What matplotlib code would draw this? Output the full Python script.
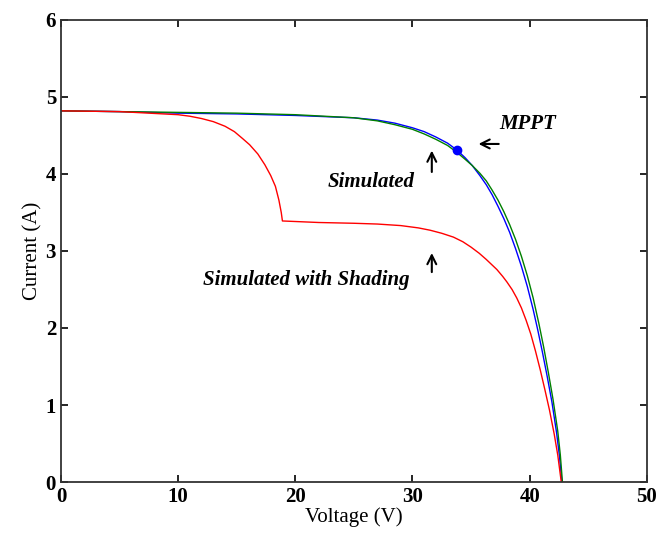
import numpy as np
import matplotlib.pyplot as plt

# voltage / current readings (V, A)
v_blue = [0, 5, 10, 15, 20, 25, 27, 28.5, 30, 31, 32, 33, 33.8, 34.5, 35.1, 35.75,
          36.3, 36.8, 37.3, 37.8, 38.3, 38.8, 39.3, 39.8, 40.3, 40.7, 41.1, 41.5, 41.9, 42.3, 42.55, 42.75]
i_blue = [4.82, 4.81, 4.79, 4.78, 4.76, 4.73, 4.70, 4.66, 4.60, 4.55, 4.48, 4.40, 4.31, 4.21, 4.11, 3.98,
          3.86, 3.73, 3.58, 3.42, 3.24, 3.03, 2.80, 2.54, 2.24, 1.97, 1.68, 1.37, 1.04, 0.64, 0.33, 0.0]

v_green = [0, 5, 10, 15, 20, 25, 27, 28.5, 30, 31, 32, 33, 33.8, 34.5, 35.1, 35.75,
           36.3, 36.8, 37.3, 37.8, 38.3, 38.8, 39.3, 39.8, 40.3, 40.8, 41.2, 41.6, 42.0, 42.4, 42.62, 42.8]
i_green = [4.82, 4.81, 4.80, 4.79, 4.77, 4.73, 4.69, 4.64, 4.58, 4.52, 4.45, 4.37, 4.28, 4.19, 4.11, 4.01,
           3.91, 3.79, 3.66, 3.51, 3.34, 3.15, 2.93, 2.68, 2.39, 2.05, 1.75, 1.42, 1.07, 0.66, 0.35, 0.0]

v_red = [0, 5, 10, 11, 12, 13, 14, 14.8, 15.5, 16.1, 16.8, 17.4, 17.9, 18.3, 18.6, 18.8, 18.9,
         22, 25, 27, 29, 30.5, 31.5, 32.5, 33.5, 34.3, 35.0, 35.7, 36.3, 37.2, 37.7, 38.05, 38.5, 38.9,
         39.3, 39.7, 40.1, 40.5, 40.9, 41.3, 41.7, 42.1, 42.4, 42.7]
i_red = [4.82, 4.81, 4.77, 4.75, 4.72, 4.68, 4.62, 4.55, 4.46, 4.38, 4.26, 4.12, 3.98, 3.84, 3.66, 3.50, 3.39,
         3.37, 3.36, 3.35, 3.33, 3.30, 3.27, 3.23, 3.18, 3.12, 3.05, 2.97, 2.89, 2.76, 2.67, 2.60, 2.50, 2.39,
         2.26, 2.10, 1.92, 1.70, 1.46, 1.20, 0.93, 0.62, 0.35, 0.0]

mppt_v = [33.8]
mppt_i = [4.31]

plt.rcParams['font.family'] = ['Liberation Serif', 'DejaVu Serif']

fig = plt.figure(figsize=(6.6, 5.37), dpi=100)
ax = fig.add_axes([0.0924, 0.1024, 0.8876, 0.8604])

ax.plot(v_blue, i_blue, color='blue', lw=1.0)
ax.plot(v_green, i_green, color='green', lw=1.0)
ax.plot(v_red, i_red, color='red', lw=1.0)
ax.plot(mppt_v, mppt_i, 'o', color='blue', markersize=6)

ax.set_xlim(0, 50)
ax.set_ylim(0, 6)
ax.set_xticks([0, 10, 20, 30, 40, 50])
ax.set_yticks([0, 1, 2, 3, 4, 5, 6])
ax.tick_params(direction='in', top=True, right=True, length=5, width=1.2, labelsize=15)
for lab in ax.get_xticklabels() + ax.get_yticklabels():
    lab.set_fontweight('bold')
for s in ax.spines.values():
    s.set_linewidth(1.3)
    s.set_color('#333333')

ax.set_xlabel('Voltage (V)', fontsize=15, labelpad=0)
ax.set_ylabel('Current (A)', fontsize=15, labelpad=2)

txt = dict(fontsize=15, fontweight='bold', fontstyle='italic', ha='center', va='center')
ax.text(39.8, 4.65, 'MPPT', **txt)
ax.text(26.5, 3.90, 'Simulated', **txt)
ax.text(20.9, 2.62, 'Simulated with Shading', **txt)

arr = dict(arrowstyle='->', lw=1.5, color='black', mutation_scale=16)
ax.annotate('', xy=(35.4, 4.39), xytext=(37.6, 4.39), arrowprops=arr)
ax.annotate('', xy=(31.65, 4.34), xytext=(31.65, 3.99), arrowprops=arr)
ax.annotate('', xy=(31.65, 3.01), xytext=(31.65, 2.69), arrowprops=arr)

fig.savefig('out.png', dpi=100)
